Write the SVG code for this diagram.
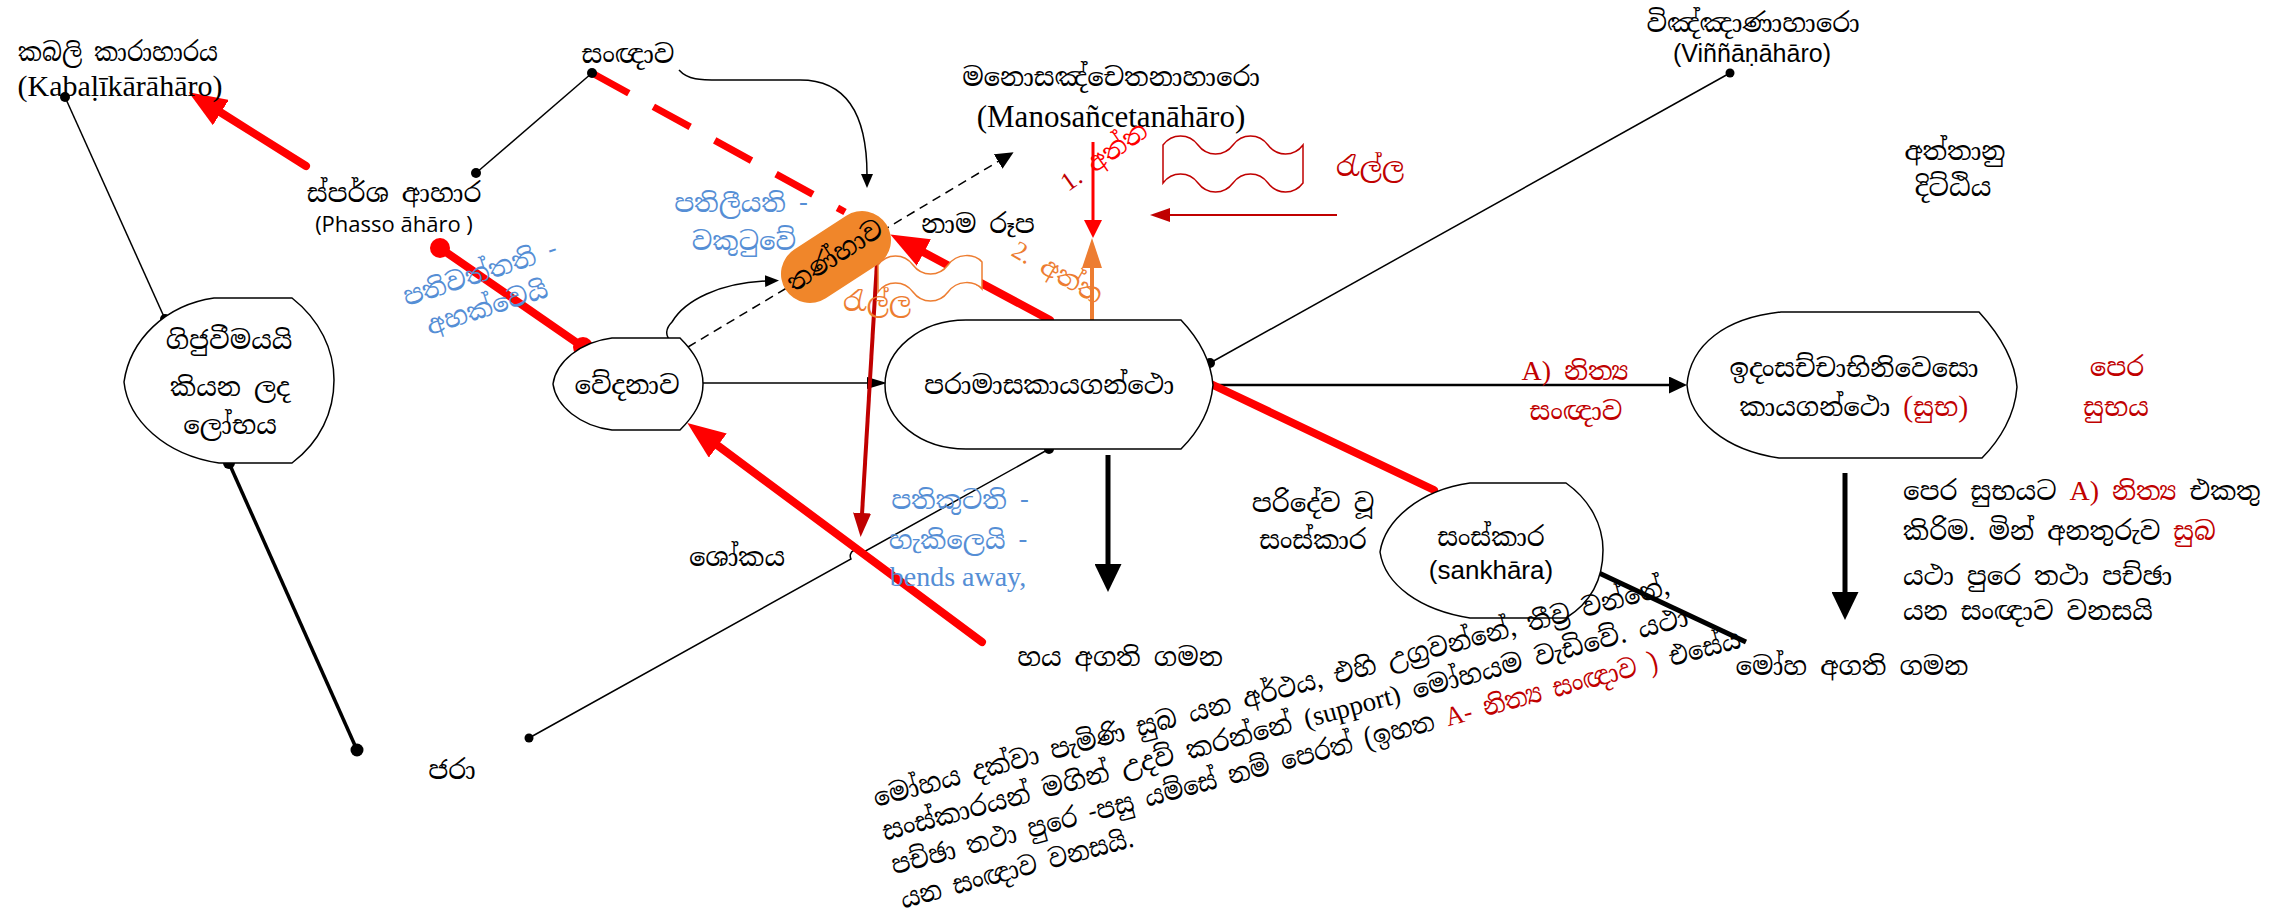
<svg xmlns="http://www.w3.org/2000/svg" width="2275" height="920" viewBox="0 0 2275 920">
<style>
.si{font-family:"Iskoola Pota","Noto Serif Sinhala","Noto Sans Sinhala","Liberation Sans",sans-serif;font-size:26px;fill:#000}
.serif{font-family:"Liberation Serif",serif}
.sans{font-family:"Liberation Sans",sans-serif}
.open{font-family:"Open Sans","Liberation Sans",sans-serif}
.c{text-anchor:middle}
.blue{fill:#558ED5}
.dr{fill:#C00000}
.rd{fill:#FF0000}
.or{fill:#ED7D31}
.node{fill:#fff;stroke:#000;stroke-width:1.5}
.thin{stroke:#000;stroke-width:1.5;fill:none}
.dot{fill:#000}
.redthick{stroke:#FF0000;stroke-width:8;stroke-linecap:round;fill:none}
</style>
<defs>
<marker id="mRed" markerUnits="userSpaceOnUse" markerWidth="38" markerHeight="30" refX="1" refY="15" orient="auto"><path d="M0,0 L38,15 L0,30 z" fill="#FF0000"/></marker>
<marker id="mRedS" markerUnits="userSpaceOnUse" markerWidth="18" markerHeight="18" refX="1" refY="9" orient="auto"><path d="M0,0 L18,9 L0,18 z" fill="#FF0000"/></marker>
<marker id="mDR" markerUnits="userSpaceOnUse" markerWidth="24" markerHeight="18" refX="1" refY="9" orient="auto"><path d="M0,0 L24,9 L0,18 z" fill="#C00000"/></marker>
<marker id="mDRh" markerUnits="userSpaceOnUse" markerWidth="20" markerHeight="14" refX="1" refY="7" orient="auto"><path d="M0,0 L20,7 L0,14 z" fill="#C00000"/></marker>
<marker id="mOr" markerUnits="userSpaceOnUse" markerWidth="30" markerHeight="20" refX="1" refY="10" orient="auto"><path d="M0,0 L30,10 L0,20 z" fill="#ED7D31"/></marker>
<marker id="mBk" markerUnits="userSpaceOnUse" markerWidth="20" markerHeight="12" refX="1" refY="6" orient="auto"><path d="M0,0 L20,6 L0,12 z" fill="#000"/></marker>
<marker id="mBkS" markerUnits="userSpaceOnUse" markerWidth="14" markerHeight="12" refX="1" refY="6" orient="auto"><path d="M0,0 L14,6 L0,12 z" fill="#000"/></marker>
<marker id="mBkM" markerUnits="userSpaceOnUse" markerWidth="18" markerHeight="17" refX="1" refY="8.5" orient="auto"><path d="M0,0 L18,8.5 L0,17 z" fill="#000"/></marker>
<marker id="mBkL" markerUnits="userSpaceOnUse" markerWidth="28" markerHeight="27" refX="1" refY="13.5" orient="auto"><path d="M0,0 L28,13.5 L0,27 z" fill="#000"/></marker>
</defs>
<rect width="2275" height="920" fill="#fff"/>

<g id="connectors">
<line class="thin" x1="65" y1="97" x2="165" y2="319"/>
<line x1="229" y1="463" x2="357" y2="750" stroke="#000" stroke-width="3.5"/>
<line class="thin" x1="476" y1="173" x2="592" y2="73"/>
<path class="thin" d="M529,738 L851,559 A6,6 0 0 1 862,553 L1049,449"/>
<line class="thin" x1="1210" y1="363" x2="1730" y2="73"/>
<line x1="1599" y1="573" x2="1746" y2="642" stroke="#000" stroke-width="5"/>
<line class="redthick" x1="306" y1="166" x2="220" y2="112" marker-end="url(#mRed)"/>
<line class="redthick" x1="440" y1="248" x2="583" y2="347"/>
<line x1="592" y1="73" x2="845" y2="212" stroke="#FF0000" stroke-width="7" stroke-dasharray="42 28"/>
<path class="thin" d="M679,70 C688,80 700,80 720,80 L800,80 C850,80 867,120 867,175" marker-end="url(#mBkS)"/>
<path class="thin" d="M672,342 C664,336 666,328 672,322 C685,300 720,283 766,281" marker-end="url(#mBkS)"/>
<line class="thin" x1="688" y1="347" x2="999" y2="161" stroke-dasharray="9 6" marker-end="url(#mBkM)"/>
<line class="thin" x1="703" y1="383" x2="868" y2="383" marker-end="url(#mBk)"/>
<line class="redthick" x1="1050" y1="320" x2="923" y2="252" marker-end="url(#mRed)"/>
<line x1="877" y1="262" x2="862" y2="514" stroke="#C00000" stroke-width="4" marker-end="url(#mDR)"/>
<line class="redthick" x1="982" y1="642" x2="717" y2="445" marker-end="url(#mRed)"/>
<line x1="1108" y1="455" x2="1108" y2="565" stroke="#000" stroke-width="5" marker-end="url(#mBkL)"/>
<line x1="1093" y1="142" x2="1093" y2="221" stroke="#FF0000" stroke-width="3" marker-end="url(#mRedS)"/>
<line x1="1092" y1="335" x2="1092" y2="267" stroke="#ED7D31" stroke-width="4" marker-end="url(#mOr)"/>
<line x1="1337" y1="215" x2="1169" y2="215" stroke="#C00000" stroke-width="2" marker-end="url(#mDRh)"/>
<line x1="1213" y1="385" x2="1670" y2="385" stroke="#000" stroke-width="2.5" marker-end="url(#mBkM)"/>
<line class="redthick" x1="1213" y1="385" x2="1434" y2="490"/>
<line x1="1845" y1="473" x2="1845" y2="593" stroke="#000" stroke-width="5" marker-end="url(#mBkL)"/>
<circle class="dot" cx="65" cy="97" r="5"/>
<circle class="dot" cx="165" cy="319" r="5"/>
<circle class="dot" cx="229" cy="463" r="6"/>
<circle class="dot" cx="357" cy="750" r="6.5"/>
<circle class="dot" cx="476" cy="173" r="5"/>
<circle class="dot" cx="592" cy="73" r="5"/>
<circle class="dot" cx="529" cy="738" r="4.5"/>
<circle class="dot" cx="1049" cy="449" r="5"/>
<circle class="dot" cx="1210" cy="363" r="5"/>
<circle class="dot" cx="1730" cy="73" r="4.5"/>
<circle cx="440" cy="248" r="10" fill="#FF0000"/>
<circle cx="583" cy="347" r="10" fill="#FF0000"/>
</g>

<g id="n-kabali">
<text class="si c" x="118" y="61" textLength="200" lengthAdjust="spacingAndGlyphs">කබලි කාරාහාරය</text>
<text class="serif c" x="120" y="96" font-size="30">(Kabaḷīkārāhāro)</text>
</g>
<g id="n-sangnava"><text class="si c" x="628" y="63">සංඥාව</text></g>
<g id="n-mano">
<text class="si c" x="1111" y="86">මනොසඤ්චෙතනාහාරො</text>
<text class="serif c" x="1111" y="127" font-size="31">(Manosañcetanāhāro)</text>
</g>
<g id="n-vinnana">
<text class="si c" x="1753" y="32" font-size="24">විඤ්ඤාණාහාරො</text>
<text class="sans c" x="1752" y="62" font-size="25">(Viññāṇāhāro)</text>
</g>
<g id="n-phassa">
<text class="si c" x="394" y="202">ස්පර්ශ ආහාර</text>
<text class="open c" x="394" y="232" font-size="22">(Phasso āhāro )</text>
</g>
<g id="n-attanu">
<text class="si c" x="1955" y="160">අත්තානු</text>
<text class="si c" x="1953" y="196">දිට්ඨිය</text>
</g>

<g id="n-gijuvima">
<path class="node" d="M214,298 L292,298 C320,320 334,350 334,380 C334,412 320,442 292,463 L219,463 C165,455 128,420 124,382 C130,340 165,305 214,298 Z"/>
<text class="si c" x="229" y="349">ගිජුවීමයයි</text>
<text class="si c" x="230" y="396">කියන ලද</text>
<text class="si c" x="230" y="434">ලෝභය</text>
</g>
<g id="n-vedana">
<path class="node" d="M612,338 L680,338 C694,352 703,366 703,384 C703,402 694,416 680,430 L612,430 C580,426 556,406 553,384 C556,362 580,342 612,338 Z"/>
<text class="si c" x="627" y="394">වේදනාව</text>
</g>
<g id="n-paramasa">
<path class="node" d="M966,320 L1181,320 C1200,340 1211,362 1213,385 C1211,408 1200,430 1181,449 L966,449 C920,449 885,420 885,385 C885,350 920,320 966,320 Z"/>
<text class="si c" x="1049" y="394">පරාමාසකායගන්ථො</text>
</g>
<g id="n-sankhara">
<path class="node" d="M1470,483 L1566,483 C1590,500 1603,525 1603,550 C1603,580 1590,603 1566,618 L1470,618 C1420,610 1385,585 1380,552 C1385,520 1420,490 1470,483 Z"/>
<text class="si c" x="1491" y="546">සංස්කාර</text>
<text class="sans c" x="1491" y="579" font-size="26">(sankhāra)</text>
</g>
<g id="n-idam">
<path class="node" d="M1781,312 L1979,312 C2000,335 2015,360 2017,387 C2015,415 2000,440 1982,458 L1779,458 C1725,450 1690,420 1687,385 C1690,345 1725,318 1781,312 Z"/>
<text class="si c" x="1854" y="377">ඉදංසච්චාභිනිවෙසො</text>
<text class="si c" x="1854" y="416">කායගන්ථො <tspan class="dr">(සුභ)</tspan></text>
</g>
<g id="n-tanha">
<rect x="776" y="228" width="120" height="58" rx="29" fill="#F0862A" transform="rotate(-33 836 257)"/>
<text class="si c" x="836" y="264" font-size="22" transform="rotate(-33 836 257)">තණ්හාව</text>
</g>
<g id="n-wave-orange">
<path d="M878,265 C887,253 904,253 913,265 S939,277 948,265 S974,253 982,262 L982,289 C974,280 957,280 948,292 S922,304 913,292 S887,280 878,292 Z" fill="#fff" stroke="#ED7D31" stroke-width="1.5"/>
<text class="si c or" x="877" y="311" font-size="28">රැල්ල</text>
</g>
<g id="n-wave-red">
<path d="M1163,145 C1172,133 1189,133 1198,145 S1224,157 1233,145 S1259,133 1268,145 S1294,157 1303,145 L1303,183 C1294,195 1277,195 1268,183 S1242,171 1233,183 S1207,195 1198,183 S1172,171 1163,183 Z" fill="#fff" stroke="#C00000" stroke-width="1.5"/>
<text class="si c dr" x="1370" y="176" font-size="28">රැල්ල</text>
</g>

<g id="labels">
<text class="si c blue" x="741" y="212">පතිලීයති -</text>
<text class="si c blue" x="744" y="250">වකුටුවේ</text>
<text class="si c blue" x="480" y="282" transform="rotate(-18 480 273)">පතිවත්තති -</text>
<text class="si c blue" x="487" y="316" transform="rotate(-18 487 307)">අහක්වෙයි</text>
<text class="si c" x="978" y="233">නාම රූප</text>
<text class="si dr" x="1068" y="192" transform="rotate(-35 1068 192)"><tspan class="serif">1.</tspan><tspan class="rd"> අත්ත</tspan></text>
<text class="si or" x="1010" y="255" transform="rotate(30 1010 255)"><tspan class="serif">2.</tspan> අත්ත</text>
<text class="si c dr" x="1575" y="380"><tspan class="serif" font-size="28">A)</tspan> නිත්‍ය</text>
<text class="si c dr" x="1576" y="420">සංඥාව</text>
<text class="si c dr" x="2117" y="376">පෙර</text>
<text class="si c dr" x="2116" y="416">සුභය</text>
<text class="si c" x="737" y="566">ශෝකය</text>
<text class="si c blue" x="960" y="509">පතිකුටති -</text>
<text class="si c blue" x="958" y="549">හැකිලෙයි -</text>
<text class="serif c blue" x="958" y="586" font-size="28">bends away,</text>
<text class="si c" x="1313" y="512">පරිදේව වූ</text>
<text class="si c" x="1313" y="549">සංස්කාර</text>
<text class="si c" x="1120" y="666">හය අගති ගමන</text>
<text class="si c" x="452" y="779">ජරා</text>
<text class="si" x="1903" y="500">පෙර  සුභයට <tspan class="serif dr" font-size="28">A)</tspan><tspan class="dr"> නිත්‍ය</tspan> එකතු</text>
<text class="si" x="1903" y="540">කිරිම. මින් අනතුරුව <tspan class="dr">සුබ</tspan></text>
<text class="si" x="1903" y="585">යථා පුරෙ තථා පච්ඡා</text>
<text class="si" x="1903" y="620">යන සංඥාව වනසයි</text>
<text class="si c" x="1852" y="675">මෝහ අගති ගමන</text>
<text class="si" font-size="25" transform="rotate(-15 876 807)">
<tspan x="876" y="807" textLength="823" lengthAdjust="spacingAndGlyphs">මෝහය  දක්වා පැමිණි සුබ යන අර්ථය, එහි උග්‍රවන්නේ, තීව්‍ර වන්නේ,</tspan>
<tspan x="876" y="842" textLength="833" lengthAdjust="spacingAndGlyphs">සංස්කාරයන් මගින් උදව් කරන්නේ <tspan class="serif" font-size="27">(support)</tspan> මෝහයම වැඩිවේ. යථා</tspan>
<tspan x="876" y="877" textLength="878" lengthAdjust="spacingAndGlyphs">පච්ඡා තථා පුරෙ -පසු යම්සේ නම් පෙරත් (ඉහත <tspan class="serif dr" font-size="27">A-</tspan><tspan class="dr"> නිත්‍ය සංඥාව )</tspan> එසේය</tspan>
<tspan x="876" y="912" textLength="240" lengthAdjust="spacingAndGlyphs">යන සංඥාව වනසයි.</tspan>
</text>
</g>
</svg>
